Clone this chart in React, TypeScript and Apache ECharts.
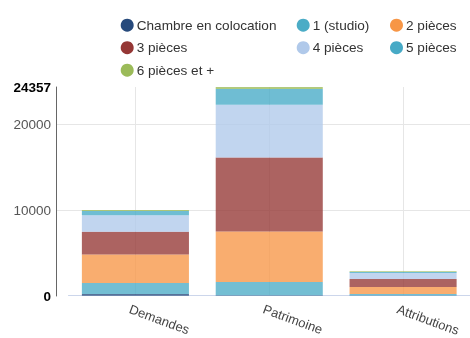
import React, { useEffect, useRef } from "react";
import * as echarts from "echarts";

const categories = ["Demandes", "Patrimoine", "Attributions"];
const seriesNames = [
  "Chambre en colocation",
  "1 (studio)",
  "2 pièces",
  "3 pièces",
  "4 pièces",
  "5 pièces",
  "6 pièces et +",
];
const chambre = [200, 60, 30];
const studio = [1280, 1530, 170];
const deuxPieces = [3330, 5900, 820];
const troisPieces = [2640, 8650, 930];
const quatrePieces = [1940, 6140, 700];
const cinqPieces = [500, 1850, 120];
const sixPieces = [120, 227, 70];
const yMax = 24357;
const yInterval = 10000;

const colors = ["#274a7c", "#4bacc6", "#f79646", "#953735", "#b0c9ea", "#47aac6", "#9bbb59"];
const values = [chambre, studio, deuxPieces, troisPieces, quatrePieces, cinqPieces, sixPieces];

const FONT = 'Arial, "Liberation Sans", sans-serif';

export default function App() {
  const ref = useRef<HTMLDivElement>(null);
  useEffect(() => {
    if (!ref.current) return;
    const chart = echarts.init(ref.current, undefined, { renderer: "svg" });
    const legendBase = {
      orient: "vertical",
      icon: "circle",
      itemWidth: 13,
      itemHeight: 13,
      itemGap: 8.5,
      padding: 0,
      top: 18.2,
      textStyle: { fontSize: 13.6, color: "#333", fontFamily: FONT, padding: [0, 0, 0, -2] },
      itemStyle: { opacity: 1 },
      selectedMode: false,
    };
    chart.setOption({
      animation: false,
      color: colors,
      textStyle: { fontFamily: FONT },
      legend: [
        { ...legendBase, left: 120.7, data: [seriesNames[0], seriesNames[3], seriesNames[6]] },
        { ...legendBase, left: 296.7, data: [seriesNames[1], seriesNames[4]] },
        { ...legendBase, left: 390, data: [seriesNames[2], seriesNames[5]] },
      ],
      grid: [
        { left: 56, top: 87, width: 414, height: 209 },
        { left: 68.5, top: 87, width: 401.5, height: 209 },
      ],
      xAxis: [
        { type: "value", gridIndex: 0, show: false, min: 0, max: 1 },
        {
          type: "category",
          gridIndex: 1,
          data: categories,
          axisLine: { show: true, lineStyle: { color: "#ccd6eb" } },
          axisTick: { show: false },
          axisLabel: {
            rotate: -20,
            fontSize: 13,
            color: "#444",
            margin: 15,
            padding: [0, 0, 0, -6],
            fontFamily: FONT,
          },
          splitLine: { show: true, alignWithLabel: true, lineStyle: { color: "#e6e6e6" } },
        },
      ],
      yAxis: [
        {
          type: "value",
          gridIndex: 0,
          min: 0,
          max: yMax,
          interval: yInterval,
          axisLine: { show: true, lineStyle: { color: "#666" } },
          axisTick: { show: false },
          axisLabel: {
            showMaxLabel: true,
            fontSize: 13.5,
            color: "#555",
            margin: 5,
            fontFamily: FONT,
            formatter: (v: number) => (v === 0 || v === yMax ? `{b|${v}}` : `${v}`),
            rich: { b: { fontWeight: "bold", color: "#000", fontSize: 13.5, fontFamily: FONT } },
          },
          splitLine: { show: true, showMaxLine: false, showMinLine: false, lineStyle: { color: "#e6e6e6" } },
        },
        { type: "value", gridIndex: 1, min: 0, max: yMax, show: false, splitLine: { show: false } },
      ],
      series: seriesNames.map((name, i) => ({
        name,
        type: "bar",
        stack: "total",
        xAxisIndex: 1,
        yAxisIndex: 1,
        barWidth: "80%",
        data: values[i],
        itemStyle: { opacity: 0.78, color: colors[i] },
      })),
    });
    return () => chart.dispose();
  }, []);
  return <div ref={ref} style={{ position: "fixed", left: 0, top: 0, width: 470, height: 338 }} />;
}
